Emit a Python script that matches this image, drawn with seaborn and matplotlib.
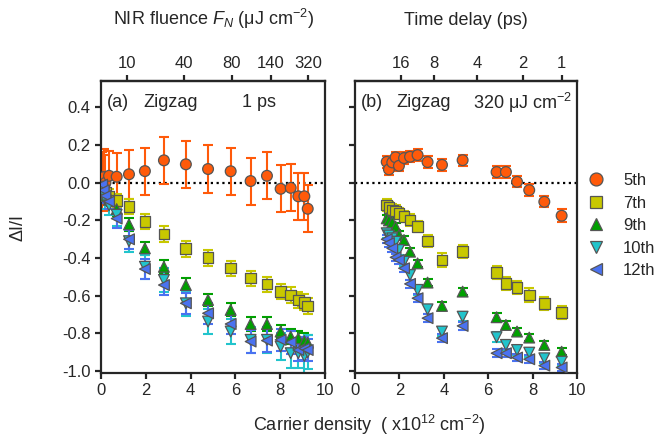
import matplotlib
matplotlib.use('Agg')
import matplotlib.pyplot as plt
import pandas as pd
import seaborn as sns

harmonics = ['5th', '7th', '9th', '10th', '12th']
colors = ['#ff5a0a', '#c8c800', '#00a000', '#22c4cc', '#4a72f0']
markers = ['o', 's', '^', 'v', '<']

# (a) fluence dependence at 1 ps
dens_a = [0.05, 0.12, 0.2, 0.36, 0.70, 1.25, 1.96, 2.81, 3.79, 4.78, 5.79, 6.68, 7.41, 8.02, 8.47, 8.81, 9.08, 9.23]
a_5th = [0.01, 0.03, 0.0, 0.037, 0.032, 0.045, 0.062, 0.119, 0.098, 0.073, 0.061, 0.009, 0.037, -0.032, -0.027, -0.072, -0.072, -0.138]
a_7th = [-0.02, -0.04, -0.05, -0.07, -0.095, -0.127, -0.207, -0.272, -0.350, -0.398, -0.453, -0.506, -0.538, -0.578, -0.596, -0.622, -0.635, -0.654]
a_9th = [-0.02, -0.05, -0.07, -0.09, -0.14, -0.221, -0.348, -0.446, -0.543, -0.622, -0.675, -0.750, -0.750, -0.790, -0.817, -0.826, -0.840, -0.850]
a_10th = [-0.03, -0.06, -0.09, -0.12, -0.17, -0.31, -0.446, -0.516, -0.640, -0.737, -0.790, -0.834, -0.834, -0.870, -0.905, -0.905, -0.920, -0.900]
a_12th = [-0.01, -0.04, -0.07, -0.10, -0.19, -0.300, -0.458, -0.543, -0.640, -0.693, -0.750, -0.843, -0.838, -0.834, -0.847, -0.888, -0.880, -0.888]
a_5th_err = [0.155, 0.15, 0.15, 0.13, 0.125, 0.13, 0.125, 0.125, 0.125, 0.125, 0.125, 0.125, 0.125, 0.125, 0.125, 0.125, 0.125, 0.125]
a_7th_err = [0.03, 0.03, 0.03, 0.035, 0.035, 0.04, 0.04, 0.04, 0.042, 0.043, 0.04, 0.04, 0.04, 0.04, 0.04, 0.042, 0.042, 0.042]
a_9th_err = [0.03, 0.03, 0.03, 0.035, 0.035, 0.035, 0.035, 0.035, 0.035, 0.032, 0.035, 0.035, 0.035, 0.035, 0.04, 0.04, 0.04, 0.04]
a_10th_err = [0.04, 0.04, 0.05, 0.05, 0.06, 0.06, 0.065, 0.065, 0.065, 0.067, 0.065, 0.07, 0.07, 0.07, 0.08, 0.08, 0.10, 0.09]
a_12th_err = [0.03, 0.03, 0.04, 0.04, 0.05, 0.05, 0.055, 0.055, 0.057, 0.055, 0.055, 0.06, 0.06, 0.06, 0.06, 0.06, 0.06, 0.06]

# (b) time-delay dependence at 320 uJ cm-2
dens_b = [1.43, 1.53, 1.68, 1.83, 1.98, 2.21, 2.48, 2.82, 3.27, 3.92, 4.85, 6.38, 6.80, 7.30, 7.85, 8.53, 9.31]
b_5th = [0.111, 0.071, 0.108, 0.135, 0.090, 0.131, 0.138, 0.147, 0.110, 0.095, 0.120, 0.057, 0.057, 0.005, -0.039, -0.101, -0.175]
b_7th = [-0.118, -0.130, -0.145, -0.150, -0.162, -0.180, -0.198, -0.233, -0.309, -0.410, -0.366, -0.477, -0.534, -0.557, -0.596, -0.640, -0.690]
b_9th = [-0.189, -0.200, -0.210, -0.233, -0.277, -0.304, -0.366, -0.428, -0.530, -0.654, -0.578, -0.714, -0.755, -0.790, -0.822, -0.861, -0.897]
b_10th = [-0.268, -0.280, -0.295, -0.313, -0.357, -0.419, -0.490, -0.569, -0.672, -0.790, -0.711, -0.820, -0.861, -0.888, -0.902, -0.932, -0.950]
b_12th = [-0.300, -0.320, -0.348, -0.396, -0.410, -0.454, -0.537, -0.613, -0.719, -0.825, -0.760, -0.905, -0.905, -0.928, -0.937, -0.971, -0.981]
b_5th_err = [0.03, 0.03, 0.03, 0.03, 0.03, 0.03, 0.03, 0.03, 0.03, 0.03, 0.03, 0.03, 0.03, 0.03, 0.03, 0.03, 0.035]
b_7th_err = [0.03, 0.03, 0.03, 0.03, 0.03, 0.03, 0.03, 0.03, 0.03, 0.035, 0.035, 0.035, 0.035, 0.035, 0.035, 0.035, 0.035]
b_9th_err = [0.02, 0.02, 0.02, 0.02, 0.02, 0.02, 0.02, 0.02, 0.02, 0.02, 0.02, 0.02, 0.02, 0.02, 0.02, 0.02, 0.02]
b_10th_err = [0.025, 0.025, 0.025, 0.025, 0.025, 0.025, 0.025, 0.025, 0.025, 0.025, 0.025, 0.025, 0.025, 0.025, 0.025, 0.025, 0.025]
b_12th_err = [0.02, 0.02, 0.02, 0.02, 0.02, 0.02, 0.02, 0.02, 0.02, 0.02, 0.02, 0.02, 0.02, 0.02, 0.02, 0.02, 0.02]

fluence_pos = [1.15, 3.72, 5.83, 7.59, 9.26]
fluence_labels = ['10', '40', '80', '140', '320']
delay_pos = [2.07, 3.56, 5.51, 7.55, 9.31]
delay_labels = ['16', '8', '4', '2', '1']

sns.set_style('ticks')
plt.rcParams['font.family'] = ['Liberation Sans', 'DejaVu Sans']
plt.rcParams['mathtext.fontset'] = 'custom'
plt.rcParams['mathtext.rm'] = 'Liberation Sans'
plt.rcParams['mathtext.it'] = 'Liberation Sans:italic'

rows = []
for panel, dens, ys, errs in [
    ('a', dens_a, [a_5th, a_7th, a_9th, a_10th, a_12th], [a_5th_err, a_7th_err, a_9th_err, a_10th_err, a_12th_err]),
    ('b', dens_b, [b_5th, b_7th, b_9th, b_10th, b_12th], [b_5th_err, b_7th_err, b_9th_err, b_10th_err, b_12th_err]),
]:
    for h, y, e in zip(harmonics, ys, errs):
        for xi, yi, ei in zip(dens, y, e):
            rows.append({'panel': panel, 'harmonic': h, 'density': xi, 'dI': yi, 'err': ei})
df = pd.DataFrame(rows)

palette = dict(zip(harmonics, colors))
marker_map = dict(zip(harmonics, markers))

fig = plt.figure(figsize=(6.64, 4.37), dpi=100)
ax_a = fig.add_axes([0.1521, 0.1465, 0.3373, 0.668])
ax_b = fig.add_axes([0.5346, 0.1465, 0.3343, 0.668])

for ax, panel in [(ax_a, 'a'), (ax_b, 'b')]:
    sub = df[df.panel == panel]
    ax.axhline(0, color='black', ls=(0, (1, 1.6)), lw=1.6, zorder=1)
    for h in harmonics:
        s = sub[sub.harmonic == h]
        ax.errorbar(s.density, s.dI, yerr=s.err, fmt='none', ecolor=palette[h],
                    elinewidth=1.5, capsize=3.5, capthick=1.5, zorder=2)
    sns.scatterplot(data=sub, x='density', y='dI', hue='harmonic', style='harmonic',
                    palette=palette, markers=marker_map, hue_order=harmonics,
                    style_order=harmonics, s=60, edgecolor='#555555', linewidth=0.9,
                    ax=ax, zorder=3, legend=(panel == 'b'))
    ax.set_xlim(0, 10)
    ax.set_ylim(-1.01, 0.54)
    ax.set_xticks([0, 2, 4, 6, 8, 10])
    ax.set_yticks([-1.0, -0.8, -0.6, -0.4, -0.2, 0.0, 0.2, 0.4])
    ax.set_xlabel('')
    ax.set_ylabel('')
    for sp in ax.spines.values():
        sp.set_linewidth(1.6)
    ax.tick_params(axis='both', labelsize=12, width=1.6, length=4, direction='out')

ax_a.set_yticklabels(['-1.0', '-0.8', '-0.6', '-0.4', '-0.2', '0.0', '0.2', '0.4'])
ax_b.set_yticklabels([])

top_a = ax_a.secondary_xaxis('top')
top_a.set_xticks(fluence_pos, labels=fluence_labels)
top_a.set_xlabel(r'NIR fluence $F_N$ (μJ cm$^{-2}$)', fontsize=13, labelpad=22)
top_b = ax_b.secondary_xaxis('top')
top_b.set_xticks(delay_pos, labels=delay_labels)
top_b.set_xlabel('Time delay (ps)', fontsize=13, labelpad=22)
for t in (top_a, top_b):
    t.tick_params(labelsize=12, width=1.6, length=4)
    t.spines['top'].set_linewidth(1.6)

ax_a.text(0.027, 0.925, '(a)', transform=ax_a.transAxes, fontsize=13, va='center')
ax_a.text(0.19, 0.925, 'Zigzag', transform=ax_a.transAxes, fontsize=13, va='center')
ax_a.text(0.63, 0.925, '1 ps', transform=ax_a.transAxes, fontsize=13, va='center')
ax_b.text(0.026, 0.925, '(b)', transform=ax_b.transAxes, fontsize=13, va='center')
ax_b.text(0.185, 0.925, 'Zigzag', transform=ax_b.transAxes, fontsize=13, va='center')
ax_b.text(0.53, 0.925, r'320 μJ cm$^{-2}$', transform=ax_b.transAxes, fontsize=13, va='center')

fig.text(0.027, 0.48, 'ΔI/I', rotation=90, fontsize=13, ha='center', va='center')
fig.text(0.556, 0.027, r'Carrier density  ( x10$^{12}$ cm$^{-2}$)', fontsize=13, ha='center', va='center')

sns.move_legend(ax_b, 'upper left', bbox_to_anchor=(1.05, 0.685), frameon=False, title=None,
                fontsize=12, handlelength=1.0, handletextpad=1.1, labelspacing=0.45,
                borderpad=0, borderaxespad=0, markerscale=1.2)

fig.savefig('out.png', dpi=100)
